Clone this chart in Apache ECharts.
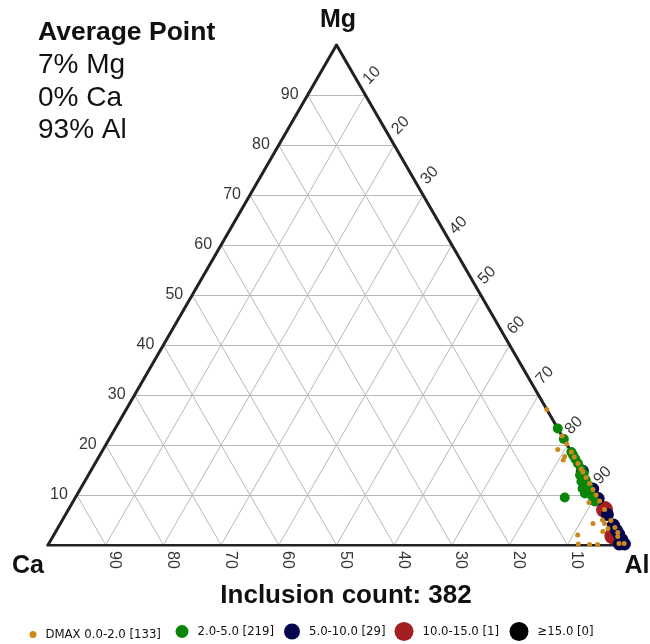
<!DOCTYPE html>
<html><head><meta charset="utf-8">
<script src="https://cdn.jsdelivr.net/npm/echarts@6/dist/echarts.min.js"></script>
<style>html,body{margin:0;padding:0;background:#fff}#c{width:650px;height:644px}</style>
</head><body><div id="c"></div>
<script>
// ---- data ----
const gridTicks = [10, 20, 30, 40, 50, 60, 70, 80, 90];
const vertexNames = ['Mg', 'Ca', 'Al'];
const seriesNames = ['DMAX 0.0-2.0 [133]', '2.0-5.0 [219]', '5.0-10.0 [29]', '10.0-15.0 [1]', '≥15.0 [0]'];
const averagePoint = { Mg: 7, Ca: 0, Al: 93 };
const inclusionCount = 382;
// points as [Mg %, Ca %]; Al % = 100 - Mg - Ca
const dmax0to2 = [[27.1,0],[21.8,0],[20.2,0],[19.1,2.1],[17.7,1.6],[17.0,2.2],[18.6,0],[17.6,0],[16.3,0],[15.2,0],
  [14.6,0],[13.5,0],[12.3,0],[11.1,0],[10.0,0],[8.8,0],[7.1,0],[8.5,2.0],[4.3,3.4],[5.0,1.4],[4.3,1.4],[2.7,2.5],
  [3.3,1.3],[2.0,7.2],[0.2,8.0],[0.1,6.1],[0.1,4.7],[4.9,0],[3.5,0],[2.5,0],[1.7,0.4],[0.3,0.9],[0.3,0]];
const dmax2to5 = [[23.3,0],[21.2,0],[18.6,0],[18.0,0],[17.2,0],[16.3,0],[15.2,0],[14.0,0.8],[14.3,0],[13.3,0.8],
  [12.7,1.2],[11.5,1.3],[10.5,1.4],[11.3,1.7],[10.3,1.8],[9.7,0.8],[8.7,0.9],[9.5,5.7],[13.0,0.3],[12.0,0.4]];
const dmax5to10 = [[14.8,0],[11.2,0],[9.3,0],[6.1,0],[4.0,0],[3.0,0],[2.2,0],[1.1,0],[0.2,0.9],[0.2,0]];
const dmax10to15 = [[7.1,0],[1.8,1.2]];
const dmax15up = [];

// ---- ternary -> cartesian (x = Al + Mg/2, y = Mg) ----
function toXY(mg, ca) { const al = 100 - mg - ca; return [(al + mg / 2) / 100, mg / 100]; }
function pts(arr) { return arr.map(p => toXY(p[0], p[1])); }

const gridSegs = [];
gridTicks.forEach(v => {
  gridSegs.push({ coords: [toXY(v, 100 - v), toXY(v, 0)] });        // Mg = v
  gridSegs.push({ coords: [toXY(0, v), toXY(100 - v, v)] });        // Ca = v
  gridSegs.push({ coords: [toXY(0, 100 - v), toXY(100 - v, 0)] });  // Al = v
});
const edgeSegs = [
  { coords: [toXY(0, 100), toXY(0, 0)] },
  { coords: [toXY(0, 0), toXY(100, 0)] },
  { coords: [toXY(100, 0), toXY(0, 100)] }
];
const FF = '"Liberation Sans", Arial, Helvetica, sans-serif';
const tickFont = { fontFamily: FF, fontSize: 16, color: '#000', textBorderWidth: 0 };

const colors = ['#C98A1B', '#0A850A', '#06064E', '#A51E22', '#000000'];
const sizes = [5, 10, 13, 17, 19];
const legendIcon = [7, 13, 16, 19, 19];
const legendLeft = [29.5, 175.5, 284, 394.5, 509.5];
const dataSets = [dmax0to2, dmax2to5, dmax5to10, dmax10to15, dmax15up];

const scatterSeries = [];
for (let i = dataSets.length - 1; i >= 0; i--) {
  scatterSeries.push({
    name: seriesNames[i], type: 'scatter', data: pts(dataSets[i]), symbol: 'circle',
    symbolSize: sizes[i], itemStyle: { color: colors[i], opacity: 1 }, clip: false, z: 10 + (4 - i)
  });
}

const chart = echarts.init(document.getElementById('c'));
chart.setOption({
  animation: false,
  grid: { left: 48, top: 45, width: 577, height: 500 },
  xAxis: { type: 'value', min: 0, max: 1, show: false },
  yAxis: { type: 'value', min: 0, max: 1, show: false },
  legend: seriesNames.map((n, i) => ({
    data: [n], left: legendLeft[i], top: 632 - legendIcon[i] / 2 - 0.5, padding: 0,
    icon: 'circle', itemWidth: legendIcon[i], itemHeight: legendIcon[i], selectedMode: false,
    textStyle: { fontFamily: '"DejaVu Sans Condensed", "Liberation Sans", sans-serif', fontSize: 13, color: '#111', padding: [0, 0, 0, 4] }
  })),
  graphic: [
    { type: 'text', left: 38, top: 19, style: { text: 'Average Point', font: 'bold 26.5px ' + FF, fill: '#111' } },
    { type: 'text', left: 38, top: 51, style: { text: averagePoint.Mg + '% Mg', font: '28px ' + FF, fill: '#111' } },
    { type: 'text', left: 38, top: 84, style: { text: averagePoint.Ca + '% Ca', font: '28px ' + FF, fill: '#111' } },
    { type: 'text', left: 38, top: 116, style: { text: averagePoint.Al + '% Al', font: '28px ' + FF, fill: '#111' } },
    { type: 'text', x: 338, y: 20, style: { text: vertexNames[0], font: 'bold 25px ' + FF, fill: '#111', textAlign: 'center', textVerticalAlign: 'middle' } },
    { type: 'text', x: 28, y: 566, style: { text: vertexNames[1], font: 'bold 25px ' + FF, fill: '#111', textAlign: 'center', textVerticalAlign: 'middle' } },
    { type: 'text', x: 637, y: 566, style: { text: vertexNames[2], font: 'bold 25px ' + FF, fill: '#111', textAlign: 'center', textVerticalAlign: 'middle' } },
    { type: 'text', x: 346, y: 596, style: { text: 'Inclusion count: ' + inclusionCount, font: 'bold 26px ' + FF, fill: '#111', textAlign: 'center', textVerticalAlign: 'middle' } }
  ],
  series: [
    { type: 'lines', coordinateSystem: 'cartesian2d', data: gridSegs, lineStyle: { color: '#B8B8B8', width: 1, opacity: 1 }, silent: true, z: 1 },
    { type: 'lines', coordinateSystem: 'cartesian2d', data: edgeSegs, lineStyle: { color: '#222', width: 3, opacity: 1, cap: 'round', join: 'round' }, silent: true, z: 2 },
    { type: 'scatter', symbolSize: 0, silent: true, z: 3, data: gridTicks.map(v => toXY(v, 100 - v)),
      label: { show: true, position: 'left', distance: 9, formatter: p => gridTicks[p.dataIndex], ...tickFont } },
    { type: 'scatter', symbolSize: 0, silent: true, z: 3, data: gridTicks.map(v => toXY(100 - v, 0)),
      label: { show: true, position: 'inside', rotate: 45, offset: [18.4, -9.2], formatter: p => gridTicks[p.dataIndex], ...tickFont } },
    { type: 'scatter', symbolSize: 0, silent: true, z: 3, data: gridTicks.map(v => toXY(0, v)),
      label: { show: true, position: 'inside', rotate: -90, offset: [15, -9], formatter: p => gridTicks[p.dataIndex], ...tickFont } },
    ...scatterSeries
  ]
});
</script></body></html>
